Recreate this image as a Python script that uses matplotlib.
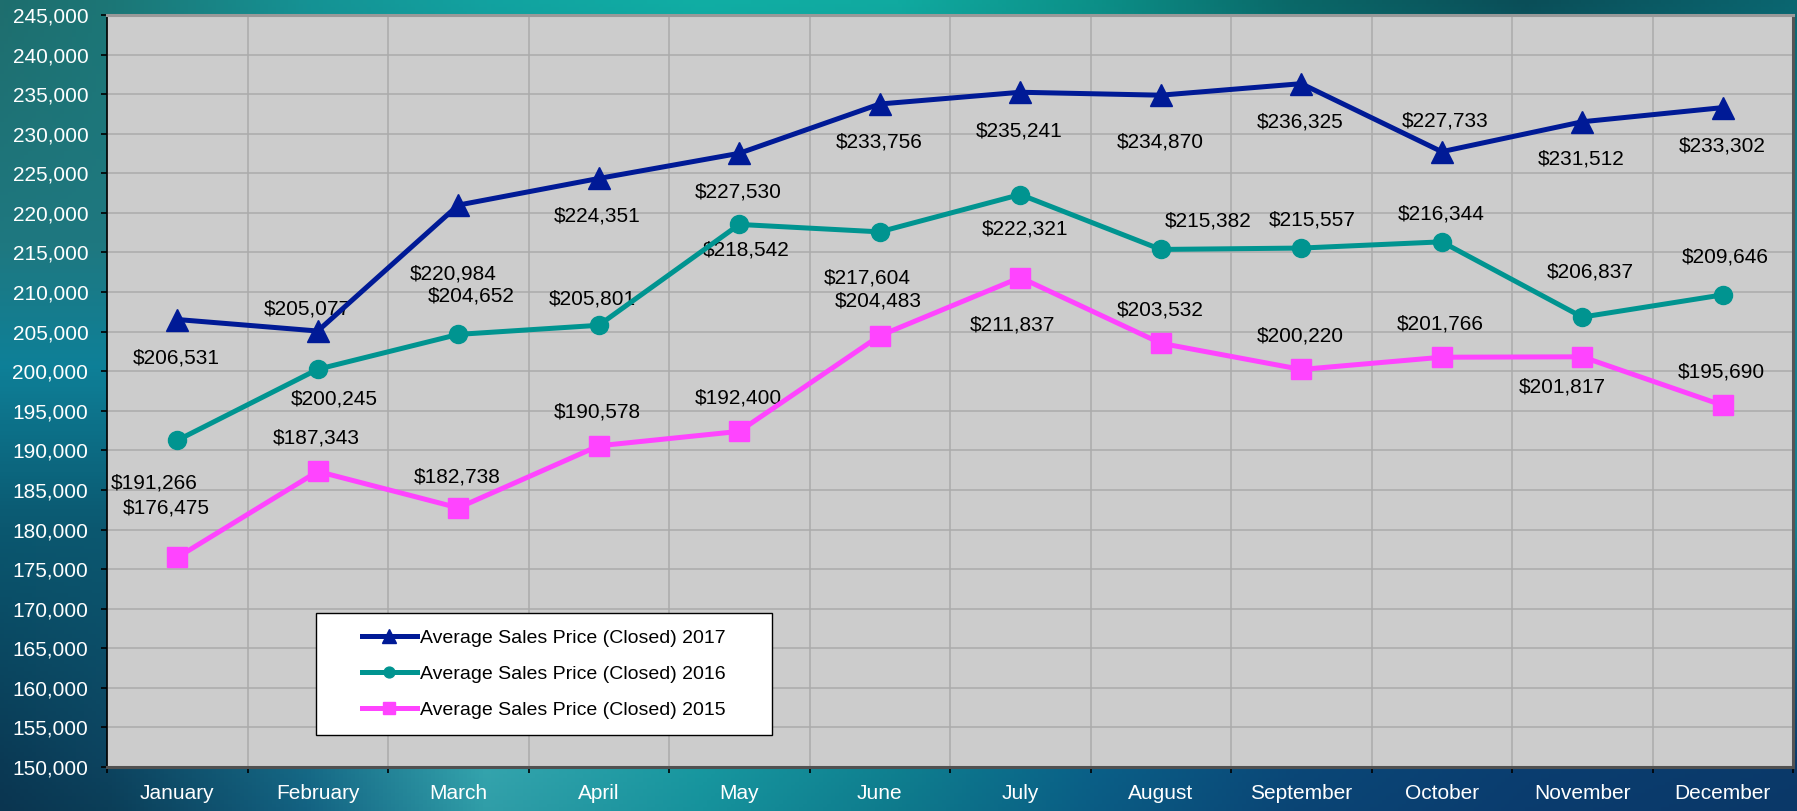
import numpy as np
import matplotlib
matplotlib.use("Agg")
import matplotlib.pyplot as plt
from matplotlib.colors import to_rgb
from matplotlib.patches import Rectangle
from matplotlib.ticker import FuncFormatter

plt.rcParams['font.family'] = ['Liberation Sans', 'DejaVu Sans']

months = ["January", "February", "March", "April", "May", "June",
          "July", "August", "September", "October", "November", "December"]

price_2017 = [206531, 205077, 220984, 224351, 227530, 233756,
              235241, 234870, 236325, 227733, 231512, 233302]
price_2016 = [191266, 200245, 204652, 205801, 218542, 217604,
              222321, 215382, 215557, 216344, 206837, 209646]
price_2015 = [176475, 187343, 182738, 190578, 192400, 204483,
              211837, 203532, 200220, 201766, 201817, 195690]

series_names = ["Average Sales Price (Closed) 2017",
                "Average Sales Price (Closed) 2016",
                "Average Sales Price (Closed) 2015"]

# where each data label sits relative to its point (pixels, x right / y down)
offsets_2017 = [(-1, 38), (-10, -22), (-5, 69), (-2, 38), (-1, 39), (-1, 38),
                (-1, 39), (0, 47), (-1, 38), (3, -31), (-1, 37), (-1, 38)]
offsets_2016 = [(-23, 43), (17, 30), (13, -38), (-6, -26), (7, 26), (-12, 46),
                (5, 34), (47, -28), (11, -28), (-1, -28), (8, -45), (3, -38)]
offsets_2015 = [(-11, -49), (-1, -33), (-1, -31), (-1, -34), (-1, -33), (-1, -35),
                (-8, 47), (-1, -33), (-1, -33), (-1, -33), (-20, 30), (-1, -33)]


def gradient(xs, ys, grid, w=450, h=220):
    grid = np.array([[to_rgb(c) for c in row] for row in grid])
    gx = np.linspace(0, 1, w)
    gy = np.linspace(0, 1, h)
    rows = np.array([[np.interp(gx, xs, grid[j, :, c]) for c in range(3)]
                     for j in range(len(ys))])
    out = np.empty((h, w, 3))
    for c in range(3):
        for i in range(w):
            out[:, i, c] = np.interp(gy, ys, rows[:, c, i])
    return out


bg_x = [0, 0.06, 0.17, 0.27, 0.39, 0.5, 0.61, 0.72, 0.85, 1]
bg_y = [0, 0.3, 0.45, 0.65, 0.94, 1]
mid = "#148090"
bg_grid = [
    ["#1E6E6E", "#1C7676", "#159294", "#12A2A0", "#10AEA4", "#10AAA0", "#0C9088", "#0A6868", "#0A4E58", "#0A6670"],
    ["#1F7880", "#1F7880", mid, mid, mid, mid, mid, mid, mid, mid],
    ["#0E8098", "#0E8098", mid, mid, mid, mid, mid, mid, mid, mid],
    ["#0B5870", "#0B5870", mid, mid, mid, mid, mid, mid, mid, mid],
    ["#0A3A55", "#0D4460", "#166A86", "#35A5AE", "#1898A0", "#0F8090", "#0A6088", "#0A4878", "#0A3E70", "#0A3A6A"],
    ["#0A3550", "#0B3E58", "#136282", "#309EA8", "#16929C", "#0E7A8C", "#0A5C84", "#0A4575", "#0A3C6E", "#0A3868"],
]

fig = plt.figure(figsize=(17.97, 8.11), dpi=100)

bg = fig.add_axes([0, 0, 1, 1])
bg.imshow(gradient(bg_x, bg_y, bg_grid), aspect='auto', extent=[0, 1, 0, 1])
bg.axis('off')

ax = fig.add_axes([107 / 1797, 44 / 811, 1686 / 1797, 752 / 811])
ax.set_facecolor('#CCCCCC')

x = np.arange(len(months))
styles = [
    (price_2017, offsets_2017, '#001A96', '^', 16),
    (price_2016, offsets_2016, '#009490', 'o', 13),
    (price_2015, offsets_2015, '#FF44FF', 's', 14),
]
for (vals, offs, color, marker, ms), name in zip(styles, series_names):
    ax.plot(x, vals, color=color, lw=3.6, marker=marker, markersize=ms,
            label=name, zorder=3)
    for xi, v, (dx, dy) in zip(x, vals, offs):
        ax.annotate(f"${v:,}", (xi, v), xytext=(dx, -dy), textcoords='offset pixels',
                    ha='center', va='center', fontsize=15, color='black', zorder=2.5)

ax.set_xlim(-0.5, 11.5)
ax.set_ylim(150000, 245000)
ax.set_yticks(np.arange(150000, 245001, 5000))
ax.yaxis.set_major_formatter(FuncFormatter(lambda v, p: f"{int(v):,}"))

ax.set_xticks(x, labels=months)
ax.set_xticks(np.arange(-0.5, 12, 1), minor=True)
ax.tick_params(axis='x', which='major', length=0, pad=12, labelcolor='white', labelsize=15)
ax.tick_params(axis='x', which='minor', length=4.5, width=1.2, color='black')
ax.tick_params(axis='y', which='major', length=4.5, width=1.2, color='black', pad=9,
               labelcolor='white', labelsize=15)

ax.grid(axis='x', which='minor', color='#ABABAB', lw=1.1, zorder=0)
ax.grid(axis='y', which='major', color='#ABABAB', lw=1.1, zorder=0)
ax.set_axisbelow(True)

ax.spines['left'].set_color('black')
ax.spines['left'].set_linewidth(1.2)
ax.spines['bottom'].set_color('#505050')
ax.spines['bottom'].set_linewidth(2.2)
ax.spines['top'].set_color('#999999')
ax.spines['top'].set_linewidth(2.2)
ax.spines['right'].set_color('#555555')
ax.spines['right'].set_linewidth(2.2)

lx, ly, lw, lh = 0.124, 0.0426, 0.2705, 0.1622
ax.add_patch(Rectangle((lx, ly), lw, lh, transform=ax.transAxes, facecolor='white',
                       edgecolor='black', lw=1.0, zorder=4))
leg = ax.legend(loc='center', bbox_to_anchor=(lx + lw / 2, ly + lh / 2), frameon=False,
                fontsize=14, handlelength=2.8, handletextpad=0.2, labelspacing=0.95,
                markerscale=0.6, numpoints=1)
leg.set_zorder(5)

fig.savefig("out.png", dpi=100)
